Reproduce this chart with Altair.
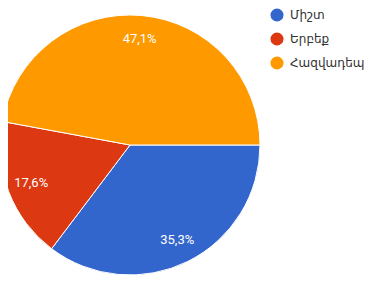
import altair as alt
import pandas as pd

categories = ["Միշտ", "Երբեք", "Հազվադեպ"]
values = [35.3, 17.6, 47.1]
labels = ["35,3%", "17,6%", "47,1%"]
colors = ["#3366CC", "#DC3912", "#FF9900"]

df = pd.DataFrame({"cat": categories, "val": values, "lab": labels, "idx": [0, 1, 2]})

cx, cy = 122, 137
theta_scale = alt.Scale(range=[1.5708, 7.8540])

base = alt.Chart(df).encode(
    theta=alt.Theta("val:Q", stack=True, scale=theta_scale),
    order=alt.Order("idx:Q"),
)

arc = base.mark_arc(stroke="white", strokeWidth=1, x=cx, y=cy, outerRadius=130).encode(
    color=alt.Color(
        "cat:N",
        scale=alt.Scale(domain=categories, range=colors),
        sort=categories,
        legend=alt.Legend(
            title=None,
            orient="none",
            legendX=262,
            legendY=0,
            symbolType="circle",
            symbolSize=170,
            labelFontSize=12,
            labelFont="DejaVu Sans",
            labelColor="#333333",
            labelLimit=0,
            rowPadding=10,
            symbolStrokeWidth=0,
            labelOffset=6,
        ),
    )
)

text = base.mark_text(
    x=cx, y=cy, radius=106, color="white", fontSize=13, font="Roboto"
).encode(text="lab:N")

chart = (
    alt.layer(arc, text)
    .properties(width=364, height=272, autosize=alt.AutoSizeParams(type="none"), padding=0)
    .configure_view(stroke=None)
)

chart.save("out.html", embed_options={"renderer": "svg", "actions": False})
